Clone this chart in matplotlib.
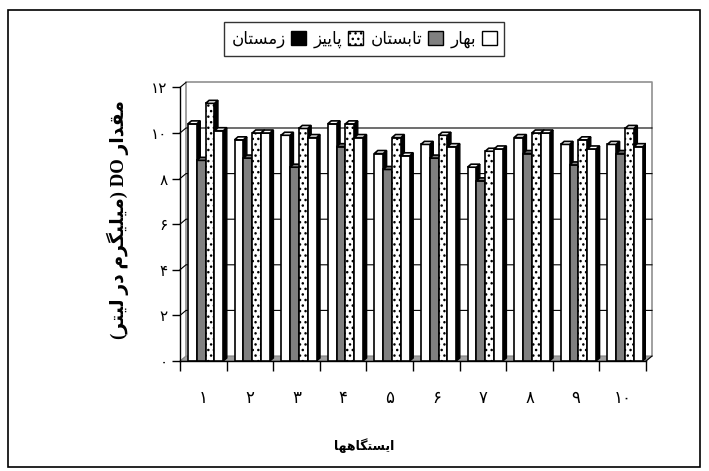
import re
import matplotlib
matplotlib.use('Agg')
import matplotlib.pyplot as plt
from matplotlib.patches import Polygon, Rectangle, Patch
import numpy as np

# data
stations = ['1', '2', '3', '4', '5', '6', '7', '8', '9', '10']
seasons = ['بهار', 'تابستان', 'پاییز', 'زمستان']
spring = [10.4, 9.7, 9.9, 10.4, 9.1, 9.5, 8.5, 9.8, 9.5, 9.5]
summer = [8.8, 8.9, 8.5, 9.4, 8.4, 8.9, 7.9, 9.1, 8.6, 9.1]
autumn = [11.3, 10.0, 10.2, 10.4, 9.8, 9.9, 9.2, 10.0, 9.7, 10.2]
winter = [10.1, 10.0, 9.8, 9.8, 9.0, 9.4, 9.3, 10.0, 9.3, 9.4]
yticks = [0, 2, 4, 6, 8, 10, 12]
ylabel = 'مقدار DO (میلیگرم در لیتر)'
xlabel = 'ایستگاهها'

# --- minimal persian shaping (matplotlib has no text shaping) ---
FORMS = {
    'ا': ('\uFE8D', '\uFE8E', None, None),
    'ب': ('\uFE8F', '\uFE90', '\uFE91', '\uFE92'),
    'پ': ('\uFB56', '\uFB57', '\uFB58', '\uFB59'),
    'ت': ('\uFE95', '\uFE96', '\uFE97', '\uFE98'),
    'د': ('\uFEA9', '\uFEAA', None, None),
    'ر': ('\uFEAD', '\uFEAE', None, None),
    'ز': ('\uFEAF', '\uFEB0', None, None),
    'س': ('\uFEB1', '\uFEB2', '\uFEB3', '\uFEB4'),
    'ق': ('\uFED5', '\uFED6', '\uFED7', '\uFED8'),
    'گ': ('\uFB92', '\uFB93', '\uFB94', '\uFB95'),
    'ل': ('\uFEDD', '\uFEDE', '\uFEDF', '\uFEE0'),
    'م': ('\uFEE1', '\uFEE2', '\uFEE3', '\uFEE4'),
    'ن': ('\uFEE5', '\uFEE6', '\uFEE7', '\uFEE8'),
    'ه': ('\uFEE9', '\uFEEA', '\uFEEB', '\uFEEC'),
    'ی': ('\uFBFC', '\uFBFD', '\uFBFE', '\uFBFF'),
}


def shape(s):
    out = []
    for i, c in enumerate(s):
        if c not in FORMS:
            out.append(c)
            continue
        prev = s[i - 1] if i > 0 else ''
        nxt = s[i + 1] if i + 1 < len(s) else ''
        jp = prev in FORMS and FORMS[prev][2] is not None
        jn = nxt in FORMS and FORMS[c][2] is not None
        iso, fin, ini, med = FORMS[c]
        if jp and jn and med:
            out.append(med)
        elif jp:
            out.append(fin)
        elif jn and ini:
            out.append(ini)
        else:
            out.append(iso)
    return ''.join(out)


def rtl(s):
    v = shape(s)[::-1]
    v = re.sub(r'[A-Za-z0-9]+', lambda m: m.group(0)[::-1], v)
    return v.translate(str.maketrans('()', ')('))


def fa_digits(s):
    return str(s).translate(str.maketrans('0123456789', '۰۱۲۳۴۵۶۷۸۹'))


fig = plt.figure(figsize=(7.09, 4.71), dpi=100)
W, H = 709, 471
ax = fig.add_axes([180 / W, (H - 361) / H, 466 / W, (361 - 87.4) / H])
ax.set_xlim(0, 10)
ax.set_ylim(0, 12)
ax.set_facecolor('none')
for s in ['top', 'right']:
    ax.spines[s].set_visible(False)
ax.spines['left'].set_linewidth(1.0)
ax.spines['bottom'].set_linewidth(1.0)

# 3d walls
DX, DY = 6 / 46.6, 5 / 22.8
floor = Polygon([(0, 0), (10, 0), (10 + DX, DY), (DX, DY)], closed=True,
                facecolor='#a0a0a0', edgecolor='#808080', lw=0.8, zorder=0.5, clip_on=False)
ax.add_patch(floor)
ax.plot([DX, DX, 10 + DX, 10 + DX], [DY, 12 + DY, 12 + DY, DY], color='#909090', lw=1.2,
        clip_on=False, zorder=0.6)
for v in yticks[1:-1]:
    ax.plot([0, DX, 10 + DX], [v, v + DY, v + DY], color='black', lw=0.8, clip_on=False, zorder=0.7)
ax.plot([0, DX], [12, 12 + DY], color='black', lw=0.8, clip_on=False, zorder=0.7)
ax.plot([10, 10 + DX], [0, DY], color='black', lw=0.8, clip_on=False, zorder=0.7)

# bars
plt.rcParams['hatch.linewidth'] = 1.0
series = [spring, summer, autumn, winter]
faces = ['white', '#808080', 'white', 'white']
hatches = [None, None, '...', None]
bw, start = 0.19, 0.17
bdx, bdy = 3.5 / 46.6, 3 / 22.8
x = np.arange(len(stations))
z = 2
for i in range(len(stations)):
    for j, vals in enumerate(series):
        x0 = x[i] + start + j * bw
        v = vals[i]
        ax.bar(x0, v, width=bw, align='edge', facecolor=faces[j], hatch=hatches[j],
               edgecolor='black', lw=1.2, zorder=z)
        ax.add_patch(Polygon([(x0 + bw, 0), (x0 + bw, v), (x0 + bw + bdx, v + bdy), (x0 + bw + bdx, bdy)],
                             closed=True, facecolor='black', edgecolor='black', lw=1.0, zorder=z - 0.1))
        ax.add_patch(Polygon([(x0, v), (x0 + bw, v), (x0 + bw + bdx, v + bdy), (x0 + bdx, v + bdy)],
                             closed=True, facecolor=faces[j], edgecolor='black', lw=1.2, zorder=z + 0.1))
        z += 1

ax.set_yticks(yticks)
ax.set_yticklabels([fa_digits(t) for t in yticks], fontsize=11, family='DejaVu Sans')
ax.tick_params(axis='y', direction='out', length=6, width=1.0, pad=3)
ax.set_xticks(np.arange(0, 11))
ax.set_xticklabels([])
ax.tick_params(axis='x', which='major', direction='out', length=7, width=1.0)
ax.set_xticks(x + 0.5, minor=True)
ax.set_xticklabels([fa_digits(s) for s in stations], minor=True, fontsize=12, family='DejaVu Sans')
ax.tick_params(axis='x', which='minor', length=0, pad=20)

fig.text(118 / W, 1 - 220 / H, rtl(ylabel), rotation=90, ha='center', va='center',
         fontsize=13.5, fontweight='bold', family=['Liberation Serif', 'DejaVu Sans'])
fig.text(364 / W, 1 - 446 / H, rtl(xlabel), ha='center', va='center', fontsize=9,
         fontweight='bold', family='DejaVu Sans')

handles = [Patch(facecolor=faces[k], edgecolor='black', hatch=hatches[k], lw=1.0) for k in range(4)]
handles[3] = Patch(facecolor='black', edgecolor='black', lw=1.0)
leg = fig.legend(handles[::-1], [rtl(s) for s in seasons[::-1]], ncol=4, markerfirst=False,
                 loc='center', bbox_to_anchor=(364 / W, 1 - 39 / H), frameon=True, fancybox=False,
                 edgecolor='black', handlelength=0.9, handleheight=0.9,
                 handletextpad=0.3, columnspacing=0.5, borderpad=0.45,
                 prop={'family': 'DejaVu Sans', 'size': 12})
leg.get_frame().set_linewidth(1.0)

fig.patches.append(Rectangle((8 / W, 4 / H), 692 / W, 457 / H, transform=fig.transFigure,
                             fill=False, edgecolor='black', lw=1.2))

fig.savefig('out.png', dpi=100)
